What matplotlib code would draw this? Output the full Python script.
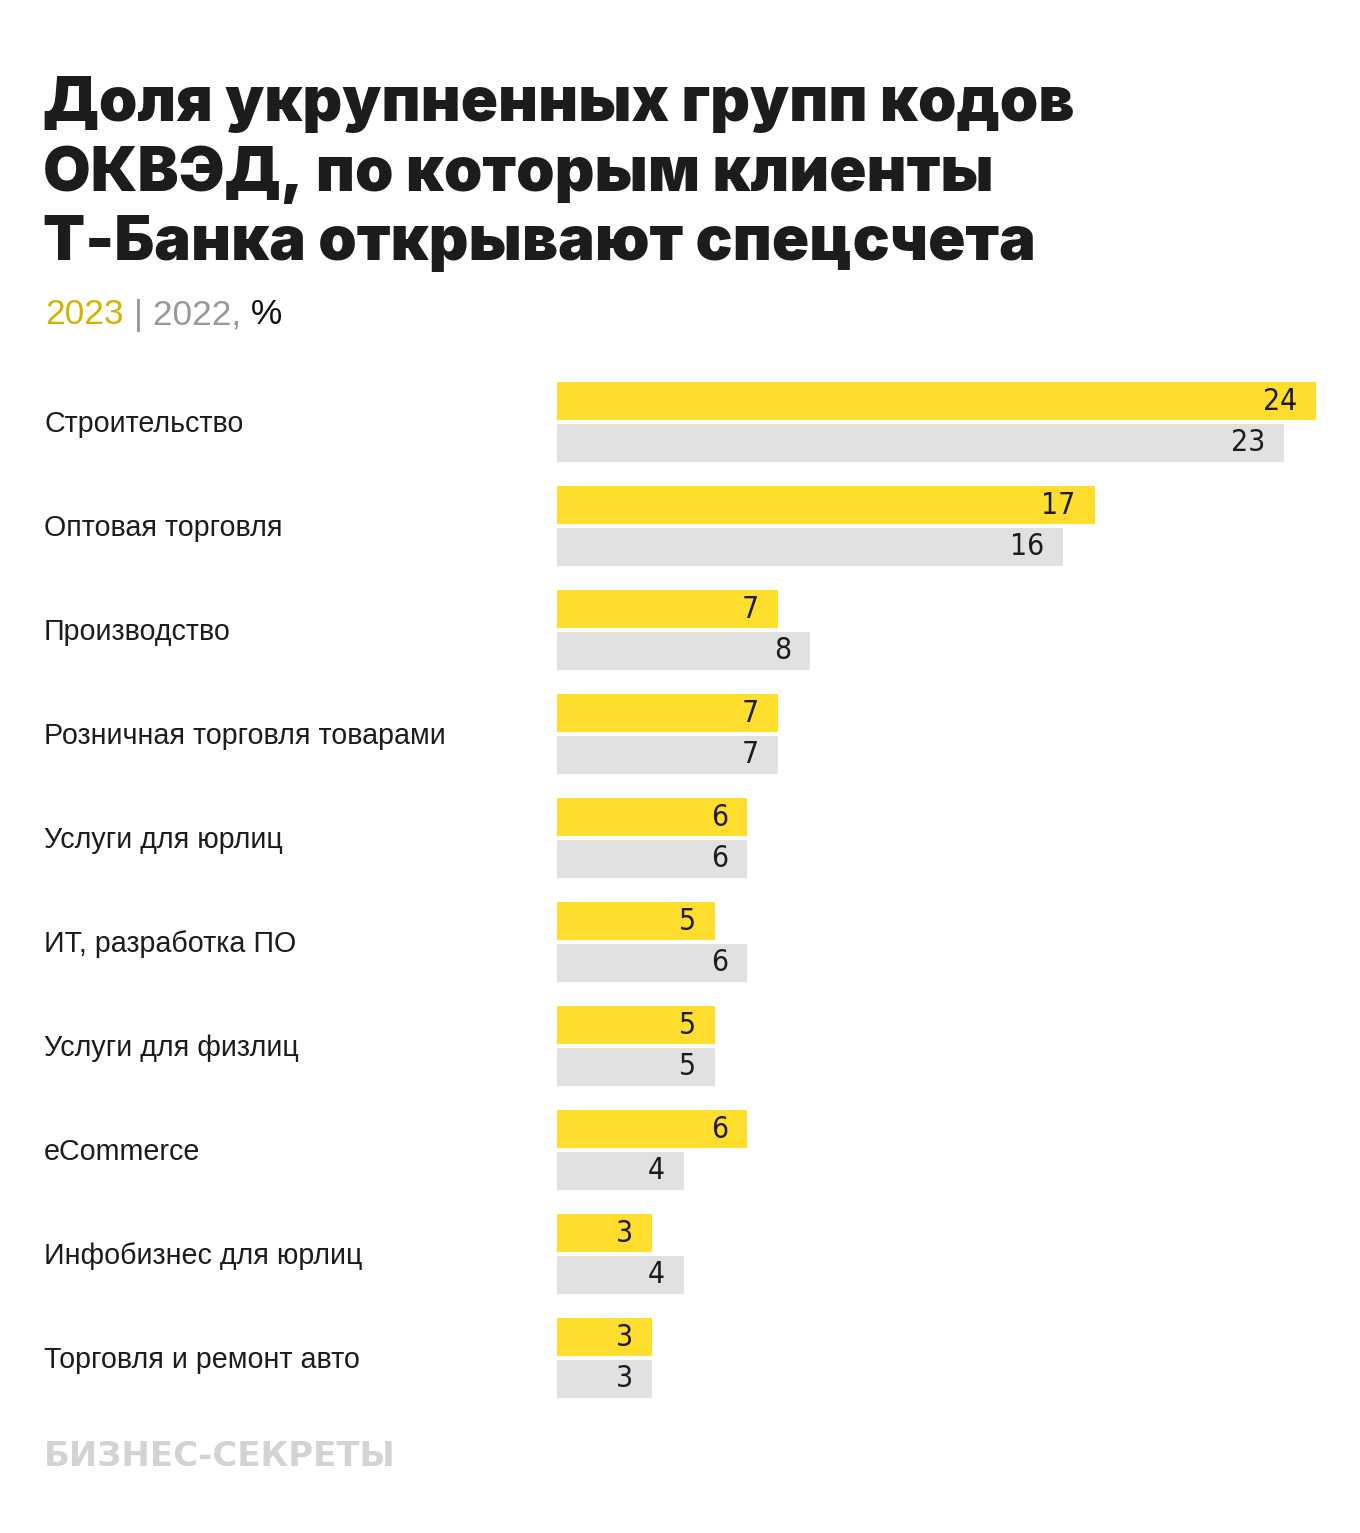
import matplotlib
matplotlib.use("Agg")
import matplotlib.pyplot as plt
import numpy as np

categories = ["Строительство", "Оптовая торговля", "Производство",
              "Розничная торговля товарами", "Услуги для юрлиц",
              "ИТ, разработка ПО", "Услуги для физлиц", "eCommerce",
              "Инфобизнес для юрлиц", "Торговля и ремонт авто"]
values_2023 = [24, 17, 7, 7, 6, 5, 5, 6, 3, 3]
values_2022 = [23, 16, 8, 7, 6, 6, 5, 4, 4, 3]

title = "Доля укрупненных групп кодов\nОКВЭД, по которым клиенты\nТ-Банка открывают спецсчета"

W, H = 1360, 1533
fig = plt.figure(figsize=(W / 100, H / 100), dpi=100)
fig.patch.set_facecolor("white")

def fx(px):
    return px / W

def fy(py):
    return 1 - py / H

YELLOW = "#FFDD2D"
GREY = "#E1E1E1"
TXT = "#1c1c1c"

# axes: x from 557 to 1316 px, y from 370 to 1410 px
ax = fig.add_axes([fx(557), fy(1410), fx(1316) - fx(557), (1410 - 370) / H])
ax.set_xlim(0, 24)
ax.set_ylim(9.5, -0.5)
ax.axis("off")

idx = np.arange(len(categories))
bh = 0.365
off = 0.2
ax.barh(idx - off, values_2023, height=bh, color=YELLOW, linewidth=0)
ax.barh(idx + off, values_2022, height=bh, color=GREY, linewidth=0)

numfont = dict(family="DejaVu Sans", stretch="condensed", fontsize=21.5, color=TXT)
for i in idx:
    ax.annotate(str(values_2023[i]), (values_2023[i], i - off), xytext=(-19, 0),
                textcoords="offset pixels", ha="right", va="center", **numfont)
    ax.annotate(str(values_2022[i]), (values_2022[i], i + off), xytext=(-19, 0),
                textcoords="offset pixels", ha="right", va="center", **numfont)
    ax.text(-(557 - 44) / (759 / 24), i + 0.02, categories[i], ha="left", va="center",
            fontsize=20.6, family=["Liberation Sans", "DejaVu Sans"], color=TXT)

# title
fig.text(fx(43), fy(76), title, ha="left", va="top", fontsize=44.3,
         fontweight="black", family=["Inter", "DejaVu Sans"], color=TXT,
         linespacing=1.25)

# subtitle
sub_y = fy(315)
sfont = dict(fontsize=25.5, family=["Liberation Sans", "DejaVu Sans"])
t1 = fig.text(fx(45), sub_y, "2023", ha="left", va="center", color="#D4B300", **sfont)
fig.canvas.draw()
r = fig.canvas.get_renderer()
bb = t1.get_window_extent(r)
t2 = fig.text(bb.x1 / W, sub_y, " | 2022,", ha="left", va="center", color="#999999", **sfont)
bb2 = t2.get_window_extent(r)
fig.text(bb2.x1 / W, sub_y, " %", ha="left", va="center", color="#111111", **sfont)

# logo
fig.text(fx(44), fy(1456), "БИЗНЕС-СЕКРЕТЫ", ha="left", va="center", fontsize=24.5,
         fontweight="bold", family=["DejaVu Sans"], color="#D3D3D3")

fig.savefig("out.png", dpi=100, facecolor="white")
